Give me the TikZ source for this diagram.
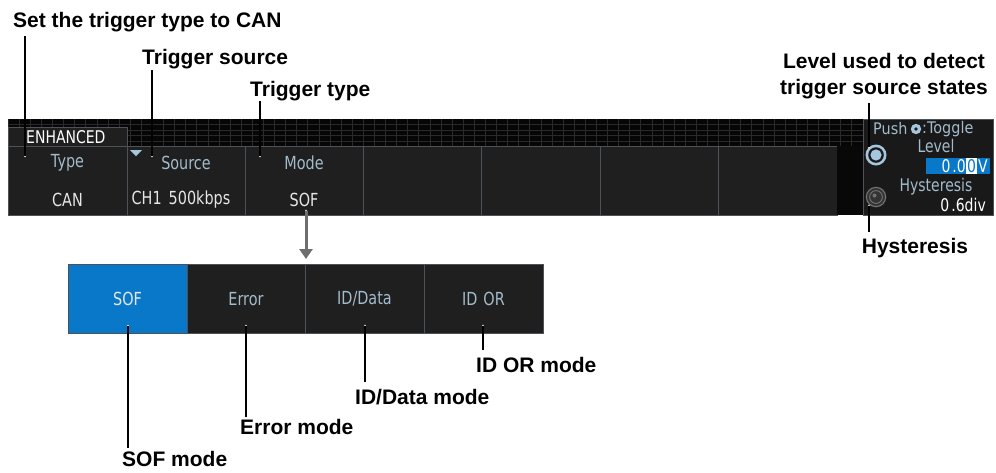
\documentclass[tikz,border=0pt]{standalone}
\usepackage{fontspec}
\setmainfont{Liberation Sans}
\newfontfamily\scr[FakeStretch=0.8]{DejaVu Sans}
\newfontfamily\scrs[FakeStretch=0.9]{DejaVu Sans}
\usetikzlibrary{arrows.meta}
\definecolor{keybg}{HTML}{1F1F1F}
\definecolor{keyline}{HTML}{4C5258}
\definecolor{gridbg}{HTML}{060606}
\definecolor{gridln}{HTML}{2A2A2A}
\definecolor{lbl}{HTML}{A3BBCB}
\definecolor{val}{HTML}{E6E6E6}
\definecolor{selblue}{HTML}{0A78C8}
\definecolor{arrowgray}{HTML}{6E6E6E}
\definecolor{knobc}{HTML}{A6C6DE}
\definecolor{panelbg}{HTML}{191919}
\tikzset{
  lab/.style={font=\fontsize{21}{24}\selectfont\bfseries, inner sep=0pt, anchor=base west},
  labc/.style={font=\fontsize{21}{26}\selectfont\bfseries, inner sep=0pt, align=center},
  keytxt/.style={font=\scr\fontsize{18}{20}\selectfont, text=lbl, inner sep=0pt},
  valtxt/.style={font=\scr\fontsize{18}{20}\selectfont, text=val, inner sep=0pt},
  paneltxt/.style={font=\scr\fontsize{17.5}{19}\selectfont, inner sep=0pt},
  smalltxt/.style={font=\scrs\fontsize{16}{18}\selectfont, inner sep=0pt},
  keybox/.style={draw=keyline, fill=keybg, line width=0.8pt},
  halo/.style={white, line width=2.8pt, line cap=round},
  callout/.style={black, line width=1.1pt},
}
\begin{document}
\begin{tikzpicture}[x=1pt,y=-1pt]
\useasboundingbox (0,0) rectangle (996,472);
\fill[white] (0,0) rectangle (996,472);

% ---------- grid area ----------
\fill[gridbg] (8,119) rectangle (863,146);
\foreach \i in {0,...,76} \draw[gridln, line width=0.6pt] ({8+\i*11.1},119) -- ({8+\i*11.1},146);
\foreach \yy in {124.5,130,135.5,141} \draw[gridln, line width=0.6pt] (8,\yy) -- (863,\yy);

% ENHANCED tab
\draw[keybox] (8,127) rectangle (127,146);
\node[paneltxt, text=white, anchor=west] (enh) at (26,137) {ENHANCED};

% ---------- soft keys ----------
\foreach \a/\b in {8/127,127/245,245/363,363/481,481/600,600/718,718/837}
  \draw[keybox] (\a,146) rectangle (\b,215);
\fill[black!97] (837.4,146.4) rectangle (863,214.6);

\node[keytxt] (typeL) at (67.5,163) {Type};
\node[valtxt] (typeV) at (67.5,200) {CAN};
\node[keytxt] (srcL) at (186,163) {Source};
\node[valtxt] (srcV) at (181,200) {CH1\hspace{7pt}500kbps};
\node[keytxt] (modeL) at (304,163) {Mode};
\node[valtxt] (modeV) at (304,200) {SOF};
\fill[knobc] (130,150) -- (142,150) -- (136,156) -- cycle;

% ---------- right panel ----------
\draw[keybox, fill=panelbg] (863,119) rectangle (993,215);
\node[smalltxt, text=lbl, anchor=west] (push) at (873,129) {Push};
\fill[knobc] (916,129) circle (5.2);
\fill[panelbg] (916,129) circle (1.8);
\node[smalltxt, text=lbl, anchor=west] (toggle) at (922,129) {:Toggle};
\node[paneltxt, text=lbl] (levelL) at (936,146) {Level};
\fill[selblue] (926,158) rectangle (990,174);
\fill[white] (966,158) rectangle (977,174);
\node[paneltxt, text=white, anchor=east] (lv1) at (966,166) {0\hspace{2pt}.0};
\node[paneltxt, text=selblue] (lv2) at (971.5,166) {0};
\node[paneltxt, text=white] (lv3) at (983,166) {V};
\node[paneltxt, text=lbl] (hysL) at (936,187) {Hysteresis};
\node[paneltxt, text=white, anchor=east] (hysV) at (986,205) {0\hspace{2pt}.6div};

% knobs
\fill[knobc] (876,155) circle (10.5);
\fill[panelbg] (876,155) circle (7.8);
\fill[knobc] (876,155) circle (5.6);
\node[inner sep=0pt, minimum size=21pt, circle] (knob1) at (876,155) {};
\fill[black!80] (876,197) circle (10.5);
\draw[black!55, line width=1pt] (876,197) circle (9.6);
\draw[black!55, line width=0.9pt] (876,197) circle (6.4);
\fill[black!55] (874.5,195.5) circle (2);
\node[inner sep=0pt, minimum size=21pt, circle] (knob2) at (876,197) {};

% ---------- lower menu ----------
\fill[selblue] (68,264) rectangle (187,333);
\draw[keybox] (187,264) rectangle (305,333);
\draw[keybox] (305,264) rectangle (424,333);
\draw[keybox] (424,264) rectangle (543,333);
\draw[keyline, line width=0.8pt] (68,264) rectangle (543,333);
\node[valtxt, text=val] (mSOF) at (127.5,299) {SOF};
\node[keytxt] (mErr) at (246,299) {Error};
\node[keytxt] (mID) at (364.5,299) {ID/Data};
\node[keytxt] (mOR) at (483.5,299) {ID\hspace{6pt}OR};

% arrow
\coordinate (arS) at (306,211);
\coordinate (arE) at (306,259);
\draw[halo] (arS) -- (306,218);
\draw[arrowgray, line width=3pt, -{Triangle[width=13pt,length=10pt]}] (arS) -- (arE);

% ---------- labels ----------
\node[lab] (l1) at (13,27) {Set the trigger type to CAN};
\node[lab] (l2) at (142,64) {Trigger source};
\node[lab] (l3) at (250,96) {Trigger type};
\node[labc] (l4) at (884,76) {Level used to detect\\trigger source states};
\node[lab, anchor=center] (l5) at (915,248) {Hysteresis};
\node[lab] (l6) at (476,372) {ID OR mode};
\node[lab] (l7) at (355,404) {ID/Data mode};
\node[lab] (l8) at (240,434) {Error mode};
\node[lab] (l9) at (122,466) {SOF mode};

% ---------- callouts ----------
\coordinate (c1a) at (25,36);  \coordinate (c1b) at (25,156);
\coordinate (c2a) at (152,70); \coordinate (c2b) at (152,156);
\coordinate (c3a) at (260,101); \coordinate (c3b) at (260,156);
\foreach \s/\e in {c1a/c1b,c2a/c2b,c3a/c3b}{
  \draw[halo] (\s |- 0,119) -- (\e);
  \draw[callout] (\s) -- (\e);
}
\coordinate (c4a) at (869,103);
\draw[halo] (869,119) -- (869,147);
\draw[callout] (c4a) -- (869,147);
\coordinate (c5b) at (869,232);
\draw[halo] (869,206) -- (869,215);
\draw[callout] (869,206) -- (c5b);

\coordinate (b1) at (128,448);
\coordinate (b2) at (246,417);
\coordinate (b3) at (365,382);
\coordinate (b4) at (483,350);
\foreach \xx/\e in {128/b1,246/b2,365/b3,483/b4}{
  \draw[halo] (\xx,326) -- (\xx,333);
  \draw[callout] (\xx,326) -- (\e);
}
\end{tikzpicture}
\end{document}
